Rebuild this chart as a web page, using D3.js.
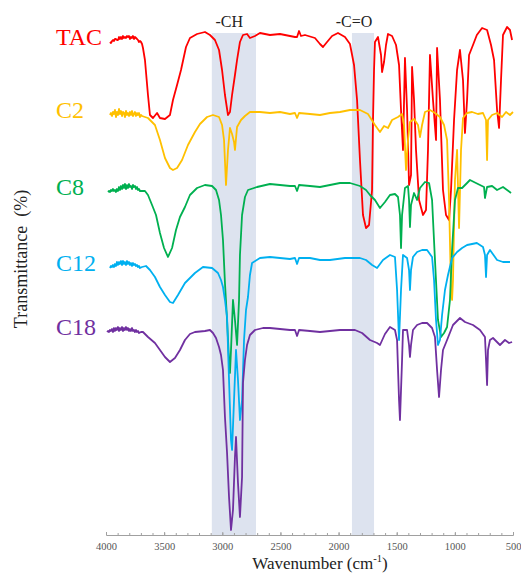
<!DOCTYPE html>
<html>
<head>
<meta charset="utf-8">
<script src="https://cdn.jsdelivr.net/npm/d3@7"></script>
<style>
  body { margin: 0; background: #fff; }
  svg { display: block; font-family: "Liberation Serif", "Times New Roman", serif; }
</style>
</head>
<body>
<svg id="chart" width="521" height="574"></svg>
<script>
// FTIR spectra: [wavenumber (cm-1), transmittance (%, stacked)]
const tac = [[3966,98.6],[3957,98.4],[3948,98.8],[3940,99.0],[3931,98.8],[3923,99.2],[3914,99.2],[3906,99.0],[3897,99.0],[3888,99.6],[3880,99.2],[3871,99.6],[3862,99.2],[3854,99.8],[3845,99.4],[3837,99.6],[3828,99.4],[3819,99.8],[3811,99.6],[3802,99.8],[3794,99.2],[3785,99.6],[3776,99.4],[3768,99.8],[3759,99.2],[3751,99.6],[3742,99.4],[3733,99.2],[3725,99.0],[3716,98.6],[3708,98.8],[3699,98.6],[3690,98.2],[3682,97.4],[3665,95.0],[3639,88.0],[3622,84.0],[3596,83.4],[3561,84.4],[3536,83.4],[3493,83.2],[3450,84.0],[3424,87.0],[3389,90.0],[3355,93.0],[3312,97.6],[3278,99.4],[3217,100.2],[3149,100.6],[3106,100.0],[3063,99.0],[3028,97.0],[3002,93.0],[2977,88.0],[2951,84.0],[2934,84.6],[2916,88.0],[2891,92.0],[2873,95.0],[2848,98.6],[2822,100.0],[2787,100.2],[2762,99.4],[2719,99.8],[2676,100.4],[2590,100.0],[2504,100.2],[2418,99.8],[2375,99.6],[2357,99.6],[2340,100.8],[2323,99.8],[2289,100.0],[2203,99.4],[2160,98.2],[2134,97.6],[2099,98.6],[2056,99.8],[2005,100.4],[1945,99.6],[1902,98.2],[1867,94.0],[1841,87.0],[1816,75.0],[1790,64.0],[1764,61.4],[1738,62.0],[1712,69.0],[1704,83.0],[1695,93.0],[1687,98.6],[1661,99.6],[1635,96.0],[1626,92.6],[1609,94.6],[1592,98.0],[1575,100.2],[1540,99.8],[1506,98.0],[1480,94.0],[1463,85.0],[1446,77.0],[1429,95.4],[1411,85.0],[1394,70.0],[1377,72.0],[1368,93.6],[1351,87.0],[1334,77.0],[1308,67.0],[1274,64.0],[1248,65.0],[1231,77.0],[1214,96.0],[1188,87.0],[1162,79.0],[1153,97.4],[1128,87.0],[1102,69.0],[1076,64.0],[1050,63.0],[1033,69.0],[1007,83.0],[981,93.0],[956,97.0],[930,91.0],[913,80.4],[895,87.0],[878,96.0],[844,98.0],[811,100.0],[766,101.4],[723,101.0],[689,98.0],[663,95.0],[637,85.0],[620,81.4],[603,91.0],[586,100.0],[551,101.6],[526,101.0],[508,99.0]];

const c2 = [[3966,84.0],[3957,84.4],[3948,83.8],[3940,84.6],[3931,84.2],[3923,85.0],[3914,83.6],[3906,84.6],[3897,84.0],[3888,85.2],[3880,84.2],[3871,84.8],[3862,83.8],[3854,84.6],[3845,84.4],[3837,83.6],[3828,84.8],[3819,84.0],[3811,84.4],[3802,83.8],[3794,84.6],[3785,84.0],[3776,84.8],[3768,83.8],[3759,84.2],[3751,84.6],[3742,83.8],[3733,84.4],[3725,84.0],[3716,84.4],[3708,83.6],[3699,84.0],[3690,83.8],[3665,83.6],[3639,83.4],[3579,82.0],[3536,79.0],[3493,75.4],[3450,73.4],[3424,73.0],[3389,73.4],[3346,75.0],[3295,78.0],[3235,80.6],[3192,82.2],[3131,83.6],[3080,84.0],[3028,83.6],[3002,82.0],[2985,79.0],[2968,70.0],[2951,77.0],[2934,81.4],[2916,80.2],[2899,78.6],[2891,77.0],[2873,81.6],[2839,83.0],[2805,83.8],[2762,84.6],[2676,84.6],[2590,84.4],[2504,84.6],[2418,84.2],[2375,84.4],[2357,83.4],[2340,84.4],[2246,84.2],[2160,84.0],[2074,84.4],[1988,84.6],[1902,85.0],[1816,85.0],[1747,84.2],[1687,82.0],[1644,80.6],[1609,81.8],[1575,81.4],[1540,83.0],[1489,83.6],[1454,84.2],[1437,82.0],[1420,73.0],[1403,79.0],[1386,82.6],[1351,83.2],[1317,82.0],[1300,79.6],[1282,82.0],[1257,84.6],[1214,85.0],[1171,84.4],[1128,83.6],[1093,82.0],[1067,79.0],[1050,67.0],[1033,49.0],[1024,47.0],[1016,51.0],[999,71.0],[981,77.0],[964,61.4],[947,77.0],[930,83.4],[895,84.4],[852,84.6],[802,84.2],[758,84.4],[732,83.0],[723,75.0],[715,83.0],[680,84.0],[637,84.4],[594,83.6],[560,84.6],[526,84.0],[500,84.6]];

const c8 = [[3983,68.6],[3974,68.8],[3965,68.6],[3957,69.0],[3948,68.8],[3940,69.2],[3931,68.8],[3923,69.0],[3914,68.6],[3906,69.2],[3897,68.8],[3888,69.6],[3880,69.0],[3871,69.8],[3862,69.2],[3854,70.0],[3845,69.4],[3837,70.2],[3828,69.2],[3819,70.0],[3811,69.4],[3802,70.2],[3794,69.6],[3785,69.8],[3776,69.2],[3768,70.0],[3759,69.6],[3751,69.8],[3742,69.2],[3733,69.6],[3725,69.0],[3716,69.2],[3708,68.8],[3690,68.8],[3665,68.8],[3639,68.0],[3604,66.0],[3570,64.0],[3536,60.4],[3501,57.4],[3467,55.6],[3432,57.4],[3398,61.0],[3364,63.6],[3321,65.6],[3278,68.0],[3217,69.4],[3149,70.0],[3088,69.8],[3054,69.0],[3028,67.0],[3011,64.0],[2994,59.0],[2977,50.4],[2959,43.0],[2942,35.0],[2934,32.4],[2925,37.0],[2908,47.0],[2891,43.0],[2873,38.0],[2856,47.0],[2848,56.0],[2830,64.0],[2805,67.6],[2779,69.0],[2701,69.6],[2590,70.2],[2504,70.0],[2418,69.8],[2375,69.8],[2357,68.8],[2340,70.0],[2246,69.8],[2160,69.6],[2074,70.0],[1988,70.4],[1902,70.4],[1816,69.8],[1764,69.0],[1730,68.0],[1687,67.0],[1644,65.4],[1601,66.6],[1558,68.0],[1515,68.2],[1489,67.6],[1472,64.0],[1463,57.4],[1454,64.0],[1429,69.4],[1403,69.8],[1394,67.0],[1386,61.6],[1377,66.0],[1351,68.4],[1325,67.0],[1300,69.4],[1257,70.6],[1222,70.4],[1196,67.0],[1171,55.0],[1145,43.0],[1119,39.6],[1093,40.4],[1067,41.6],[1042,47.0],[1024,57.0],[999,67.0],[973,69.4],[938,69.4],[895,70.4],[870,71.0],[836,70.6],[784,70.0],[749,69.6],[741,67.4],[723,69.6],[680,69.8],[637,69.0],[586,69.6],[551,69.0],[517,68.4]];

const c12 = [[3966,53.4],[3957,53.8],[3948,53.6],[3940,54.0],[3931,53.6],[3923,54.2],[3914,53.8],[3906,54.6],[3897,54.0],[3888,54.6],[3880,54.2],[3871,54.8],[3862,54.0],[3854,54.8],[3845,54.2],[3837,54.6],[3828,54.0],[3819,54.8],[3811,54.2],[3802,54.6],[3794,54.0],[3785,54.4],[3776,53.8],[3768,54.4],[3759,54.0],[3751,54.2],[3742,53.8],[3733,54.0],[3725,53.6],[3716,53.8],[3708,53.4],[3690,53.6],[3656,53.8],[3622,53.0],[3579,51.6],[3536,49.6],[3493,48.0],[3450,46.6],[3424,46.4],[3381,48.0],[3321,50.4],[3278,51.4],[3235,52.4],[3166,53.6],[3088,53.4],[3037,52.4],[3011,51.0],[2994,49.6],[2977,47.0],[2959,43.6],[2942,31.0],[2925,19.0],[2916,17.0],[2899,27.0],[2882,37.0],[2865,31.0],[2848,23.0],[2830,27.0],[2813,39.0],[2796,45.0],[2779,47.6],[2762,52.0],[2744,54.4],[2676,55.4],[2590,55.6],[2504,55.4],[2418,55.2],[2375,55.4],[2357,54.2],[2340,55.4],[2246,55.4],[2160,55.0],[2074,55.0],[1945,55.4],[1816,55.4],[1764,55.0],[1712,54.0],[1669,53.4],[1618,55.0],[1558,56.0],[1515,55.6],[1497,49.0],[1480,39.0],[1463,49.0],[1446,56.0],[1411,55.4],[1394,53.0],[1386,49.0],[1377,53.0],[1360,55.6],[1325,56.6],[1282,57.0],[1239,57.0],[1196,55.6],[1179,51.0],[1162,43.0],[1145,38.0],[1128,39.0],[1110,44.0],[1085,49.0],[1059,52.0],[1024,55.4],[981,56.6],[938,57.4],[895,58.0],[852,58.2],[811,58.4],[758,57.6],[741,56.0],[732,51.6],[723,56.0],[698,57.0],[637,55.0],[586,54.6],[526,54.6]];

const c18 = [[3991,40.6],[3983,40.8],[3974,40.6],[3966,41.0],[3957,40.8],[3948,41.2],[3940,40.6],[3931,41.4],[3923,40.8],[3914,41.4],[3906,41.0],[3897,41.6],[3888,40.8],[3880,41.4],[3871,41.0],[3862,41.6],[3854,40.8],[3845,41.4],[3837,41.0],[3828,41.6],[3819,41.0],[3811,41.4],[3802,40.8],[3794,41.2],[3785,40.8],[3776,41.4],[3768,40.8],[3759,41.0],[3751,40.6],[3742,41.0],[3733,40.6],[3725,40.8],[3716,40.4],[3699,40.6],[3682,40.6],[3639,39.6],[3579,38.4],[3536,37.0],[3493,35.6],[3450,34.6],[3407,35.4],[3364,37.0],[3321,39.0],[3278,40.2],[3235,40.6],[3149,40.8],[3106,41.0],[3080,40.4],[3054,39.4],[3028,37.6],[3011,36.0],[2994,33.0],[2977,23.6],[2959,16.4],[2942,7.6],[2925,1.0],[2908,5.0],[2891,15.6],[2882,19.6],[2865,10.4],[2848,3.6],[2830,11.6],[2822,30.4],[2805,35.0],[2787,38.0],[2762,40.0],[2719,41.0],[2650,41.4],[2590,41.4],[2504,41.2],[2418,41.0],[2375,41.0],[2357,39.8],[2340,41.0],[2246,40.8],[2160,40.6],[2074,40.8],[1988,41.0],[1859,41.0],[1798,40.4],[1730,39.0],[1669,38.4],[1644,38.0],[1601,40.2],[1558,41.6],[1515,41.0],[1497,39.0],[1480,27.0],[1472,23.0],[1454,35.0],[1446,41.0],[1411,41.0],[1394,38.0],[1386,35.6],[1377,38.0],[1360,41.0],[1325,42.0],[1282,42.4],[1239,42.4],[1196,41.4],[1171,39.6],[1153,33.0],[1136,27.6],[1119,33.0],[1102,37.0],[1067,39.0],[1016,42.0],[956,43.4],[913,42.6],[844,42.0],[784,41.0],[741,39.6],[732,35.0],[723,30.0],[715,37.0],[698,39.0],[672,39.4],[612,38.0],[569,39.0],[534,38.4],[508,38.6]];

const seriesNames = ["TAC", "C2", "C8", "C12", "C18"];
const seriesColors = ["#ff0000", "#ffc000", "#00b050", "#00b0f0", "#7030a0"];
const seriesData = [tac, c2, c8, c12, c18];

// shaded regions [from, to] in cm-1, label and where it sits
const bandRanges = [[3090, 2710], [1885, 1695]];
const bandLabels = ["-CH", "-C=O"];
const bandLabelAt = [2940, 1867];

const xTicks = [4000, 3500, 3000, 2500, 2000, 1500, 1000, 500];
const xMinorTicks = d3.range(4000, 499, -100);

const svg = d3.select("#chart");
const margin = {left: 106, right: 8, top: 35, bottom: 39};
const width = 521, height = 574;

const x = d3.scaleLinear().domain([4000, 500]).range([margin.left, width - margin.right]);
const y = d3.scaleLinear().domain([0, 100]).range([height - margin.bottom, margin.top]);
const y0 = height - margin.bottom;

// bands
svg.append("g").selectAll("rect")
    .data(bandRanges)
    .join("rect")
    .attr("x", d => x(d[0]))
    .attr("width", d => x(d[1]) - x(d[0]))
    .attr("y", y(100.4))
    .attr("height", y0 - y(100.4))
    .attr("fill", "#dde3ef");

svg.append("g").selectAll("text")
    .data(bandLabels)
    .join("text")
    .attr("x", (d, i) => x(bandLabelAt[i]))
    .attr("y", 27)
    .attr("text-anchor", "middle")
    .attr("font-size", 16)
    .attr("fill", "#222")
    .text(d => d);

// axis
const xAxis = d3.axisBottom(x).tickValues(xTicks).tickSize(-3).tickPadding(8).tickFormat(d3.format("d"));
const xMinor = d3.axisBottom(x).tickValues(xMinorTicks).tickSize(-2).tickFormat("");

svg.append("g")
    .attr("transform", `translate(0,${y0})`)
    .call(xMinor)
    .call(g => g.select(".domain").remove())
    .call(g => g.selectAll(".tick line").attr("stroke", "#a0a0a0"));

svg.append("g")
    .attr("transform", `translate(0,${y0})`)
    .call(xAxis)
    .call(g => g.select(".domain").attr("stroke", "#a0a0a0"))
    .call(g => g.selectAll(".tick line").attr("stroke", "#a0a0a0"))
    .call(g => g.selectAll(".tick text")
        .attr("fill", "#555")
        .attr("font-size", 10.5)
        .attr("font-family", "Liberation Serif, serif"));

// spectra
const line = d3.line()
    .x(d => x(d[0]))
    .y(d => y(d[1]));

svg.append("g").selectAll("path")
    .data(seriesData)
    .join("path")
    .attr("d", line)
    .attr("fill", "none")
    .attr("stroke", (d, i) => seriesColors[i])
    .attr("stroke-width", 1.8)
    .attr("stroke-linejoin", "round");

// series names
svg.append("g").selectAll("text")
    .data(seriesNames)
    .join("text")
    .attr("x", 56)
    .attr("y", (d, i) => y(seriesData[i][0][1]) + 3)
    .attr("font-size", 24)
    .attr("fill", (d, i) => seriesColors[i])
    .text(d => d);

// axis titles
const xt = svg.append("text")
    .attr("x", 320)
    .attr("y", 569)
    .attr("text-anchor", "middle")
    .attr("font-size", 17)
    .attr("fill", "#222");
xt.append("tspan").text("Wavenumber  (cm");
xt.append("tspan").attr("font-size", 10.5).attr("dy", -7).text("-1");
xt.append("tspan").attr("dy", 7).text(")");

svg.append("text")
    .attr("transform", "translate(27,259) rotate(-90)")
    .attr("text-anchor", "middle")
    .attr("font-size", 18)
    .attr("fill", "#222")
    .attr("xml:space", "preserve")
    .text("Transmittance  (%)");
</script>
</body>
</html>
